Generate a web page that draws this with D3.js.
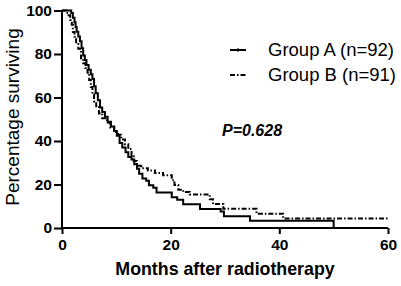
<!DOCTYPE html>
<html><head><meta charset="utf-8">
<script src="https://cdn.jsdelivr.net/npm/d3@7"></script>
<style>html,body{margin:0;padding:0;background:#fff;}svg{display:block;}</style>
</head><body>
<script>
// Data (months, % surviving)
const groupATimes = [0,1.7,2.0,2.3,2.5,2.7,3.0,3.3,3.6,3.9,4.2,4.5,4.9,5.3,5.6,5.9,6.2,6.6,7.0,7.4,7.9,8.4,9.0,9.6,10.1,10.6,11.1,11.7,12.2,12.8,13.3,13.8,14.2,14.8,15.5,16.0,16.8,17.4,20.2,21.2,22.3,25.4,29.2,29.8,34.6,50];
const groupASurv  = [100,98.9,96.7,94.6,92.4,90.2,88.0,85.9,82.6,79.3,77.2,75.0,72.8,70.7,68.5,65.2,62.0,58.7,55.4,53.3,51.1,48.9,46.7,44.6,42.4,39.1,37.0,34.8,32.6,31.5,29.3,27.2,25.0,22.8,21.7,19.6,18.5,16.3,14.1,13.0,10.9,8.7,7.6,5.4,3.3,0];
const groupBTimes = [0,0.8,1.2,1.5,1.8,2.0,2.3,2.6,3.0,3.5,3.9,4.3,4.7,5.0,5.3,5.6,5.9,6.3,6.8,7.4,8.3,8.9,9.6,10.3,10.9,11.6,12.2,12.8,13.2,13.8,14.6,15.8,17.1,18.6,20.2,20.7,21.4,22.3,23.5,27.2,27.8,29.7,35.8,40.7,60];
const groupBSurv  = [100,98.9,97.8,95.6,93.4,90.1,87.9,84.6,82.4,78.0,75.8,73.6,71.4,68.1,64.8,61.5,58.2,56.0,52.7,50.5,48.4,46.2,44.0,42.9,40.7,38.5,36.3,33.0,30.8,28.6,27.5,26.4,25.3,24.2,22.0,19.8,17.6,16.5,15.4,13.2,11.0,8.8,6.6,4.4,4.4];
const seriesNames = ["Group A (n=92)", "Group B (n=91)"];
const xTicks = [0,20,40,60];
const yTicks = [0,20,40,60,80,100];
const pText = "P=0.628";

const W = 401, H = 286;
const svg = d3.select("body").append("svg").attr("width", W).attr("height", H);
const x = d3.scaleLinear().domain([0,60]).range([62,388]);
const y = d3.scaleLinear().domain([0,100]).range([228,10.5]);

const line = d3.line().x(d=>x(d[0])).y(d=>y(d[1])).curve(d3.curveStepAfter);
const dataA = groupATimes.map((t,i)=>[t,groupASurv[i]]);
const dataB = groupBTimes.map((t,i)=>[t,groupBSurv[i]]);
const font = "Liberation Sans, Arial, sans-serif";

// Axes
const xAxis = svg.append("g").attr("transform","translate(0,228)")
  .call(d3.axisBottom(x).tickValues(xTicks).tickSize(6).tickPadding(5));
const yAxis = svg.append("g").attr("transform","translate(62,0)")
  .call(d3.axisLeft(y).tickValues(yTicks).tickSize(8).tickPadding(2));
[xAxis,yAxis].forEach(g=>{
  g.select(".domain").attr("stroke","#000").attr("stroke-width",2);
  g.selectAll(".tick line").attr("stroke","#000").attr("stroke-width",2);
  g.selectAll(".tick text").attr("fill","#000").attr("font-family",font)
    .attr("font-size",15.5).attr("font-weight","bold");
});
xAxis.select(".domain").attr("d","M62,0H388");
yAxis.select(".domain").attr("d","M0,228V10.5");

// Curves
svg.append("path").datum(dataB).attr("d",line).attr("fill","none").attr("stroke","#000")
  .attr("stroke-width",2).attr("stroke-dasharray","5,2,1.5,2");
svg.append("path").datum(dataA).attr("d",line).attr("fill","none").attr("stroke","#000")
  .attr("stroke-width",2);

// Legend
const leg = [{y:50, dash:null},{y:75, dash:"5,2,1.5,2"}];
leg.forEach((l,i)=>{
  svg.append("line").attr("x1",230).attr("x2",246).attr("y1",l.y).attr("y2",l.y)
    .attr("stroke","#000").attr("stroke-width",2).attr("stroke-dasharray",l.dash);
  svg.append("text").attr("x",268).attr("y",l.y).attr("dy","0.35em")
    .attr("font-family",font).attr("font-size",18.5).attr("fill","#000").text(seriesNames[i]);
});
svg.append("line").attr("x1",238).attr("x2",238).attr("y1",48).attr("y2",52).attr("stroke","#000").attr("stroke-width",1);

svg.append("text").attr("x",222).attr("y",136).attr("font-family",font).attr("font-size",16)
  .attr("font-weight","bold").attr("font-style","italic").attr("fill","#000").text(pText);

// Axis titles
svg.append("text").attr("x",225).attr("y",275).attr("text-anchor","middle").attr("font-family",font)
  .attr("font-size",17.8).attr("font-weight","bold").attr("fill","#000").text("Months after radiotherapy");
svg.append("text").attr("transform","translate(19,117) rotate(-90)").attr("text-anchor","middle")
  .attr("font-family",font).attr("font-size",19).attr("fill","#000").text("Percentage surviving");
</script>
</body></html>
